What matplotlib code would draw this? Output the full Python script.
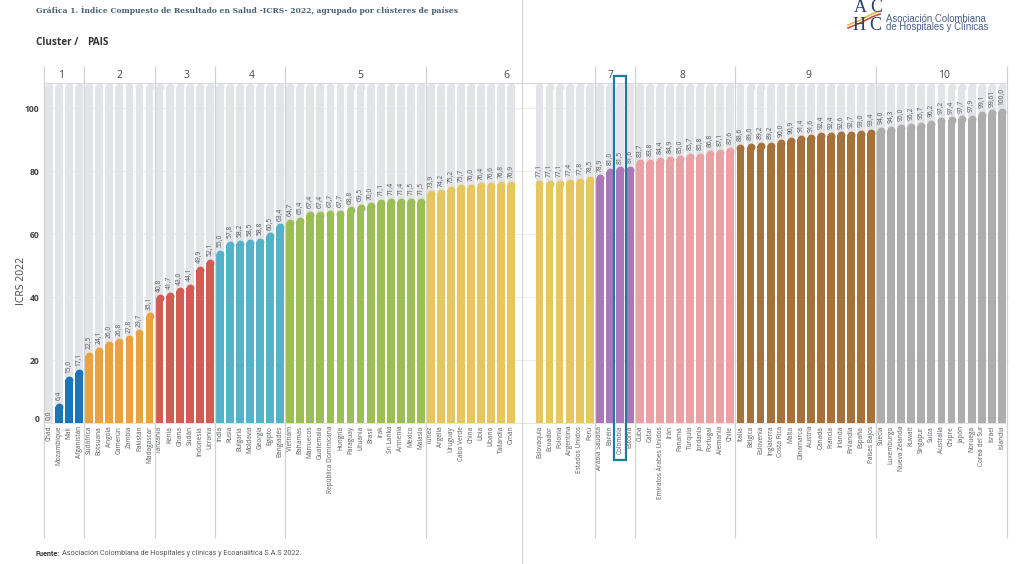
#!/usr/bin/env python3
"""Indice Compuesto de Resultado en Salud (ICRS) 2022 por cluster de paises."""

import numpy as np
import matplotlib
matplotlib.use("Agg")
import matplotlib.pyplot as plt
from matplotlib.patches import Rectangle
from matplotlib.transforms import ScaledTranslation

W, H = 1024, 564

paises = [
    ["Chad", "Mozambique", "Mali", "Afganistán"],
    ["Sudáfrica", "Botsuana", "Angola", "Camerún", "Zambia", "Pakistán", "Madagascar"],
    ["Tanzania", "Kenia", "Ghana", "Sudán", "Indonesia", "Ucrania"],
    ["India", "Rusia", "Bulgaria", "Moldavia", "Georgia", "Egipto", "Bangladés"],
    ["Vietnam", "Bahamas", "Marruecos", "Guatemala", "República Dominicana", "Hungría",
     "Paraguay", "Lituania", "Brasil", "Irak", "Sri Lanka", "Armenia", "México", "Malasia"],
    ["Túnez", "Argelia", "Uruguay", "Cabo Verde", "China", "Libia", "Líbano", "Tailandia",
     "Omán", "Eslovaquia", "Ecuador", "Polonia", "Argentina", "Estados Unidos", "Perú"],
    ["Arabia Saudita", "Baréin", "Colombia", "Estonia"],
    ["Cuba", "Catar", "Emiratos Árabes Unidos", "Irán", "Panamá", "Turquía", "Jordania",
     "Portugal", "Alemania", "Chile"],
    ["Italia", "Bélgica", "Eslovenia", "Inglaterra", "Costa Rica", "Malta", "Dinamarca",
     "Austria", "Canadá", "Francia", "Irlanda", "Finlandia", "España", "Países Bajos"],
    ["Suecia", "Luxemburgo", "Nueva Zelanda", "Kuwait", "Singapur", "Suiza", "Australia",
     "Chipre", "Japón", "Noruega", "Corea del Sur", "Israel", "Islandia"],
]
valores = [
    [0.0, 6.4, 15.0, 17.1],
    [22.5, 24.1, 26.0, 26.8, 27.8, 29.7, 35.1],
    [40.8, 41.7, 43.0, 44.1, 49.9, 52.1],
    [55.0, 57.8, 58.2, 58.5, 58.8, 60.5, 63.4],
    [64.7, 65.4, 67.4, 67.4, 67.7, 67.7, 68.8, 69.5, 70.0, 71.1, 71.4, 71.4, 71.5, 71.5],
    [73.9, 74.2, 75.2, 75.7, 76.0, 76.4, 76.6, 76.8, 76.9, 77.1, 77.1, 77.1, 77.4, 77.8, 78.5],
    [78.9, 81.0, 81.5, 81.6],
    [83.7, 83.8, 84.4, 84.9, 85.0, 85.7, 85.8, 86.8, 87.1, 87.6],
    [88.6, 89.0, 89.2, 89.2, 90.0, 90.9, 91.4, 91.6, 92.4, 92.4, 92.6, 92.7, 93.0, 93.4],
    [94.0, 94.3, 95.0, 95.2, 95.7, 96.2, 97.2, 97.4, 97.7, 97.9, 99.1, 99.61, 100.0],
]
colores = ["#1b75b6", "#e9a33e", "#d25c53", "#54b2c9", "#9cbe57",
           "#e6c75f", "#aa78b6", "#e9a1a3", "#a4723a", "#adadad"]
# pixel x of the cluster numbers in the header row
cluster_x = [61, 119, 186, 252, 360, 506, 611, 682, 808, 944]

TRACK = "#e2e4e7"
LINE = "#cfd1d3"
TEXT = "#555a5f"
TOP = 108.0        # top of the grey tracks
SALTO = 1.8        # extra gap between the two halves of the page
CORTE = 47         # bars on the left half

plt.rcParams["font.family"] = ["Open Sans", "DejaVu Sans"]

fig = plt.figure(figsize=(W / 100, H / 100), dpi=100)
# value 0 sits at y=423 px, TOP at y=83 px
ax = fig.add_axes([43.5 / W, 1 - 423 / H, (1008.5 - 43.5) / W, (423 - 83) / H])

y_vals = np.concatenate(valores)
nombres = [p for grupo in paises for p in grupo]
grupo_id = np.concatenate([[i] * len(g) for i, g in enumerate(paises)])
x_pos = np.arange(len(y_vals), dtype=float)
x_pos[CORTE:] += SALTO

# page fold and faint grid lines
fig.add_artist(plt.Line2D([522 / W, 522 / W], [0, 1], color="#d4d4d4", lw=0.8))
for v in [20, 40, 60, 80, 100]:
    ax.axhline(v, color="#eceded", lw=0.8, zorder=0)

BAR_W = 0.78
CAP = 1.2  # radius of the rounded top, in value units

ax.bar(x_pos, np.full(len(x_pos), TOP - CAP), width=BAR_W, color=TRACK, zorder=1)
ax.scatter(x_pos, np.full(len(x_pos), TOP - CAP), s=32, color=TRACK, lw=0, zorder=1, clip_on=False)

for x, v, g in zip(x_pos, y_vals, grupo_id):
    txt = "99,61" if v == 99.61 else f"{v:.1f}".replace(".", ",")
    ax.text(x, v + 0.9, txt, rotation=90, ha="center", va="bottom", fontsize=4.8,
            color=TEXT, zorder=4)
    if v <= 0:
        continue
    ax.bar(x, max(v - CAP, 0), width=BAR_W, color=colores[g], zorder=2)
    ax.scatter([x], [max(v - CAP, 0)], s=32, color=colores[g], lw=0, zorder=2)

# separators between clusters
fin = np.cumsum([len(g) for g in paises])
seps = [x_pos[0] - 0.55] + [(x_pos[i - 1] + x_pos[i]) / 2 for i in fin[:-1]] + [x_pos[-1] + 0.55]
ax.vlines(seps, -36.5, 113.5, color=LINE, lw=0.9, zorder=3, clip_on=False)
ax.plot([seps[0], seps[-1]], [TOP, TOP], color="#d8d9da", lw=0.8, zorder=3, clip_on=False)
ax.plot([seps[0], seps[-1]], [0, 0], color="#dddddd", lw=0.6, zorder=3, clip_on=False)

for px, n in zip(cluster_x, range(1, 11)):
    fig.text(px / W, 1 - 75 / H, str(n), ha="center", va="center", fontsize=7.5, color="#444444")

# Colombia highlight
i_col = nombres.index("Colombia")
ax.add_patch(Rectangle((x_pos[i_col] - 0.58, -11.8), 1.16, 122.0, fill=False, ec="#1c7aa5",
                       lw=1.6, zorder=6, clip_on=False))

ax.set_xlim(-0.55, 95.47)
ax.set_ylim(0, TOP)
ax.set_xticks(x_pos, nombres, rotation=90, fontsize=4.7, color=TEXT)
ax.set_yticks([0, 20, 40, 60, 80, 100])
ax.set_yticklabels(["0", "20", "40", "60", "80", "100"], fontsize=6.2, fontweight="bold", color="#444444")
ax.tick_params(axis="x", length=0, pad=2)
ax.tick_params(axis="y", length=0, pad=3)
zero = ax.get_yticklabels()[0]
zero.set_transform(zero.get_transform() + ScaledTranslation(0, 5 / 100, fig.dpi_scale_trans))
for s in ax.spines.values():
    s.set_visible(False)
ax.patch.set_alpha(0)

fig.text(22 / W, 1 - 281 / H, "ICRS 2022", rotation=90, ha="center", va="center", fontsize=7.5, color="#444444")

# header
fig.text(35.5 / W, 1 - 10.5 / H, "Gráfica 1. Índice Compuesto de Resultado en Salud -ICRS- 2022, agrupado por clústeres de países",
         fontsize=5.5, fontweight="bold", family="DejaVu Serif", color="#4a6072", va="center")
fig.text(36.5 / W, 1 - 42.5 / H, "Cluster /", fontsize=7.2, fontweight="bold", color="#333333", va="center")
fig.text(87 / W, 1 - 42.5 / H, "PAIS", fontsize=7.2, fontweight="bold", color="#333333", va="center")

# footer
fig.text(36 / W, 1 - 553.5 / H, "Fuente:", fontsize=5.2, fontweight="bold", family="Roboto", color="#333333", va="center")
fig.text(62 / W, 1 - 553.5 / H, "Asociación Colombiana de Hospitales y clínicas y Ecoanalítica S.A.S 2022.",
         fontsize=5.2, family="Roboto", color="#555555", va="center")

# logo
for ch, px, py in [("A", 860, 8), ("C", 876, 8), ("H", 859, 25), ("C", 875, 25)]:
    fig.text(px / W, 1 - py / H, ch, fontsize=13, family="Liberation Serif", color="#27406f",
             ha="center", va="center")
for col, dy in [("#e8b93a", 0), ("#c8503c", 3)]:
    fig.add_artist(plt.Line2D(np.array([848, 860, 872, 880]) / W,
                              1 - (np.array([25, 20, 14, 11]) + dy) / H, color=col, lw=1.2))
fig.text(886 / W, 1 - 18.5 / H, "Asociación Colombiana", fontsize=6.9, family="Liberation Sans", color="#4a5f86", va="center")
fig.text(886 / W, 1 - 27.5 / H, "de Hospitales y Clínicas", fontsize=6.9, family="Liberation Sans", color="#4a5f86", va="center")

fig.savefig("out.png", dpi=100)
